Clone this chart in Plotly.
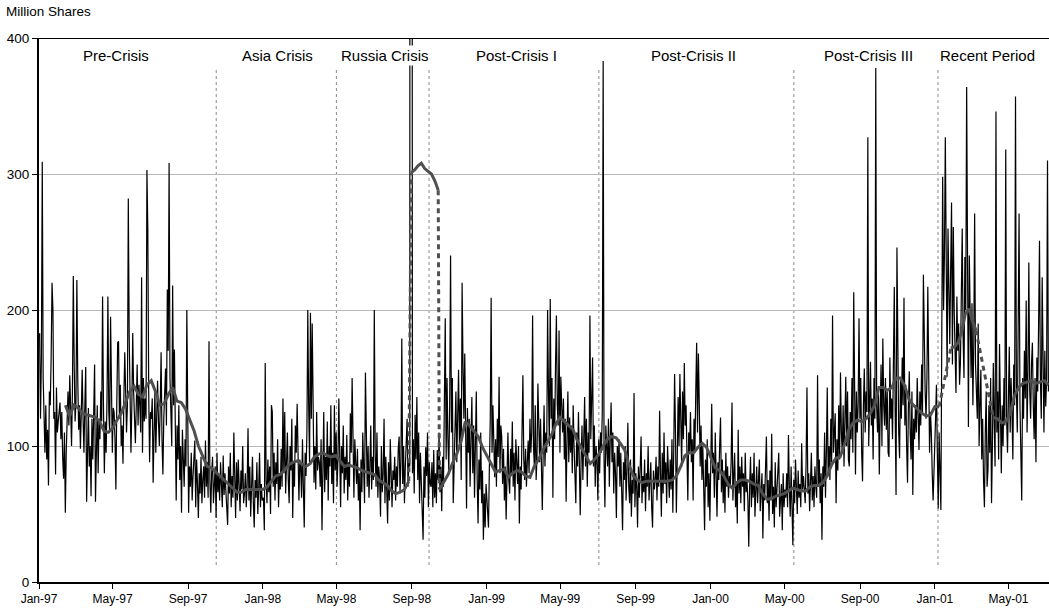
import pandas as pd
import plotly.graph_objects as go

# ---------------- data (million shares) ----------------
vol_1997 = [
    183,120,165,309,150,119,95,130,90,112,71,140,130,165,220,200,120,125,79,143,110,
    118,128,132,105,125,92,76,110,51,95,130,140,115,152,128,100,140,225,160,118,132,
    222,150,112,130,98,125,156,120,95,130,158,59,110,128,85,100,63,120,90,130,160,
    59,95,130,80,120,105,140,118,210,130,80,118,95,135,210,125,110,195,150,95,128,
    125,105,68,130,176,177,120,145,100,115,87,135,169,140,110,130,282,180,120,95,130,
    183,140,120,102,130,160,115,145,130,110,224,95,150,118,135,120,303,260,140,88,125,
    120,135,73,110,140,95,125,148,118,100,130,169,105,79,120,140,157,115,215,170,308,
    150,120,100,218,130,171,95,60,115,90,130,75,100,51,112,95,70,105,85,200,110,
    51,85,70,95,60,78,88,104,55,90,72,47,80,65,92,58,75,85,62,104,70,
    88,62,177,75,51,80,92,58,70,85,47,95,66,78,60,88,72,55,93,64,80,
    70,58,42,85,65,95,55,78,62,110,72,47,88,60,90,75,52,82,68,100,58,
    65,80,55,72,113,60,85,48,70,92,58,40,75,62,88,50,68,95,55,72,60,
]
vol_1998 = [
    62,38,161,75,58,90,66,85,50,130,125,70,95,60,88,72,105,55,80,68,98,
    70,135,80,125,65,92,110,75,58,100,82,120,47,88,70,115,95,131,78,60,90,
    85,62,105,70,40,95,78,110,200,130,88,198,120,190,95,73,100,68,125,82,92,
    88,70,105,38,80,125,66,92,75,118,60,100,85,130,72,95,58,130,82,110,70,
    90,135,72,55,100,80,115,65,92,75,108,60,88,70,124,95,150,78,62,105,85,
    72,98,60,80,38,90,66,110,75,58,154,88,70,100,62,85,115,68,92,75,200,
    95,70,110,62,85,75,48,100,66,80,120,58,92,70,43,88,60,105,72,55,82,
    75,92,60,85,70,98,107,66,88,179,72,100,58,85,110,120,70,90,85,3500,1500,
    80,105,65,123,90,136,75,110,58,95,70,48,31,85,62,99,78,110,55,88,72,
    70,88,55,97,62,80,58,97,75,110,66,85,52,92,70,128,194,90,150,105,82,
    130,240,110,150,58,95,106,140,88,120,156,100,135,75,220,160,120,168,90,54,128,
    95,120,70,105,136,80,115,62,98,140,75,43,90,68,110,58,82,31,65,40,72,
]
vol_1999 = [
    40,85,120,209,95,130,88,77,105,70,120,92,151,80,115,107,72,98,60,85,46,
    90,110,75,65,98,80,118,70,95,60,105,88,72,100,43,85,68,110,152,90,75,
    98,70,88,104,80,120,95,110,196,100,85,130,75,92,146,110,88,120,70,53,95,
    130,85,110,95,200,140,100,208,120,150,62,135,105,160,196,130,115,185,95,151,120,
    110,135,90,120,59,105,140,88,121,95,115,80,130,100,75,58,110,85,125,95,49,
    90,115,75,100,136,85,120,70,110,95,196,105,130,165,85,115,70,100,90,60,105,
    80,110,95,125,383,90,55,115,100,85,120,70,105,132,88,110,65,95,80,47,100,
    85,105,70,95,62,38,88,75,100,60,82,117,70,58,90,48,75,65,139,55,80,
    70,40,85,62,95,107,58,78,66,90,52,80,70,100,60,75,88,55,40,82,68,
    75,92,60,85,70,126,80,48,95,65,110,72,88,58,100,75,62,90,68,105,51,
    95,153,110,51,90,136,100,153,120,85,140,105,161,115,130,90,60,110,95,125,88,
    105,60,120,95,140,176,110,168,130,85,115,75,100,62,38,90,70,105,55,80,45,
]
vol_2000 = [
    131,80,95,62,110,70,48,88,75,100,121,66,90,58,82,51,95,70,85,62,78,
    70,88,132,60,78,95,55,72,43,112,65,85,58,92,70,80,52,95,66,75,60,
    26,70,92,55,80,62,95,48,75,85,58,70,90,52,66,80,32,72,60,85,107,
    58,75,45,82,62,109,50,70,40,88,55,66,78,95,48,62,72,38,80,55,68,
    62,80,55,108,70,48,85,60,27,75,58,90,66,50,82,62,72,55,102,68,78,
    70,58,88,143,65,80,52,75,95,60,78,55,85,70,62,152,72,90,58,80,31,
    85,70,110,62,95,143,80,100,75,120,88,196,95,115,124,58,105,82,130,90,154,
    110,95,130,85,120,151,100,140,90,85,125,105,150,95,213,120,79,140,110,130,194,
    120,150,95,74,130,157,110,140,125,327,100,145,162,115,135,90,150,120,378,130,110,
    140,79,125,160,100,179,130,115,150,112,140,95,92,165,120,135,105,150,217,125,64,
    246,140,110,91,150,120,165,130,209,115,145,100,73,130,155,110,90,140,64,120,105,
    130,110,150,120,97,140,115,160,125,226,173,140,120,150,217,130,95,125,110,80,60,
]
vol_2001 = [
    120,145,95,54,110,70,53,180,298,200,240,327,220,151,260,190,175,230,279,160,
    261,200,150,139,210,170,190,145,161,220,260,180,150,239,200,364,170,114,240,180,
    150,205,130,175,271,160,141,120,190,100,130,156,90,120,75,55,110,140,70,82,
    130,95,150,58,100,161,120,85,346,110,140,90,175,120,80,130,100,150,115,318,
    120,95,140,173,110,150,125,90,160,130,357,140,110,180,271,130,100,60,150,120,
    170,135,207,110,155,235,140,120,160,176,130,105,150,88,165,140,190,251,150,120,
    224,140,110,170,129,150,310,140,
]
year_spans = [("1997-01-02", "1997-12-31"), ("1998-01-02", "1998-12-31"),
              ("1999-01-04", "1999-12-31"), ("2000-01-03", "2000-12-29"),
              ("2001-01-02", "2001-07-05")]

# 30-day moving average (segments)
ma_seg1 = [130,122,130,128,124,123,122,121,118,111,110,113,119,124,132,140,144,138,136,145,
           148,140,130,131,138,143,133,132,127,119,111,100,92,85,84,81,78,75,72,69,
           66,66,68,68,68,68,68,70,74,78,79,82,86,88,89,87,85,87,92,94,
           95,93,92,93,89,85,86,85,84,82,81,80,79,75,73,71,67,65,66,68,74]
ma_seg2 = [301,303,306,308,304,302,300,295,288]
ma_seg3 = [68,73,79,87,94,103,118,115,111,107,99,93,87,81,82,83,77,80,82,81,
           78,77,85,90,97,102,108,116,121,118,115,112,104,98,92,87,90,94,100,105,
           107,106,102,97,86,78,75,73,74,74,74,74,74,74,75,78,85,93,95,95,
           99,102,99,91,84,82,78,72,69,73,75,75,74,72,71,65,61,61,63,64,
           65,67,69,68,67,67,70,71,71,73,78,86,91,92,101,112,117,119,118,120,
           124,130,143,143,141,143,150,150,144,134,130,127,124,122,123,129,129]
ma_seg4 = [172,173,176,184,197,201,192,185]
ma_seg5 = [121,120,117,118,124,137,143,146,147,148,146,147,148,145]
ma_spans = [("1997-02-13", "1998-08-27"), ("1998-08-31", "1998-10-14"),
            ("1998-10-16", "2001-01-08"), ("2001-01-27", "2001-03-09"),
            ("2001-04-06", "2001-07-05")]

period_names = ["Pre-Crisis", "Asia Crisis", "Russia Crisis", "Post-Crisis I",
                "Post-Crisis II", "Post-Crisis III", "Recent Period"]
period_label_dates = ["1997-05-07", "1998-01-25", "1998-07-20", "1999-02-19",
                      "1999-12-05", "2000-09-15", "2001-03-28"]
period_starts = ["1997-10-17", "1998-05-01", "1998-09-29", "1999-07-03",
                 "2000-05-16", "2001-01-06"]
tick_dates = ["1997-01-01", "1997-05-01", "1997-09-01", "1998-01-01", "1998-05-01",
              "1998-09-01", "1999-01-01", "1999-05-01", "1999-09-01", "2000-01-01",
              "2000-05-01", "2000-09-01", "2001-01-01", "2001-05-01"]

# ---------------- build ----------------
FONT = "Liberation Sans, Arial, sans-serif"
daily_x, daily_y = [], []
for vals, (s, e) in zip([vol_1997, vol_1998, vol_1999, vol_2000, vol_2001], year_spans):
    daily_x += list(pd.date_range(s, e, periods=len(vals)))
    daily_y += vals

fig = go.Figure()
fig.add_trace(go.Scatter(x=daily_x, y=daily_y, mode="lines",
                         line=dict(color="black", width=1.2), showlegend=False))

segs = [ma_seg1, ma_seg2, ma_seg3, ma_seg4, ma_seg5]
seg_x = [list(pd.date_range(s, e, periods=len(v))) for v, (s, e) in zip(segs, ma_spans)]
MA_COLOR = "#505050"
for i in range(len(segs) - 1):
    fig.add_trace(go.Scatter(x=[seg_x[i][-1], seg_x[i + 1][0]], y=[segs[i][-1], segs[i + 1][0]],
                             mode="lines", line=dict(color=MA_COLOR, width=3, dash="5px,4px"),
                             showlegend=False))
for xs, v in zip(seg_x, segs):
    fig.add_trace(go.Scatter(x=xs, y=v, mode="lines",
                             line=dict(color=MA_COLOR, width=3), showlegend=False))

for d in period_starts:
    fig.add_shape(type="line", xref="x", yref="y", x0=d, x1=d, y0=12.5, y1=378,
                  line=dict(color="#8a8a8a", width=1, dash="dot"), layer="below")
fig.add_shape(type="line", xref="paper", yref="y", x0=0, x1=1, y0=400, y1=400,
              line=dict(color="black", width=2))

for name, d in zip(period_names, period_label_dates):
    fig.add_annotation(x=d, y=387, xref="x", yref="y", text=name, showarrow=False,
                       font=dict(family=FONT, size=15, color="black"),
                       bgcolor="white", borderpad=1,
                       xanchor="center", yanchor="middle")
fig.add_annotation(xref="paper", yref="paper", x=-0.0347, y=1.0478, text="Million Shares",
                   showarrow=False, xanchor="left", yanchor="middle",
                   font=dict(family=FONT, size=13.5, color="black"))

fig.update_xaxes(type="date", range=["1997-01-01", "2001-07-06"],
                 tickmode="array", tickvals=tick_dates, tickformat="%b-%y",
                 ticks="outside", ticklen=5, tickcolor="black", tickwidth=1,
                 showline=True, linecolor="black", linewidth=2, showgrid=False,
                 zeroline=False, tickfont=dict(family=FONT, size=12, color="black"))
fig.update_yaxes(range=[0, 400], tickvals=[0, 100, 200, 300, 400],
                 ticks="outside", ticklen=5, tickcolor="black", tickwidth=1,
                 showline=True, linecolor="black", linewidth=2,
                 showgrid=True, gridcolor="#b8b8b8", gridwidth=1.3, zeroline=False,
                 tickfont=dict(family=FONT, size=13.5, color="black"))
fig.update_layout(width=1049, height=610, margin=dict(l=39, r=0, t=38, b=28),
                  plot_bgcolor="white", paper_bgcolor="white", showlegend=False)

fig.write_html("out.html", config={"displayModeBar": False})
